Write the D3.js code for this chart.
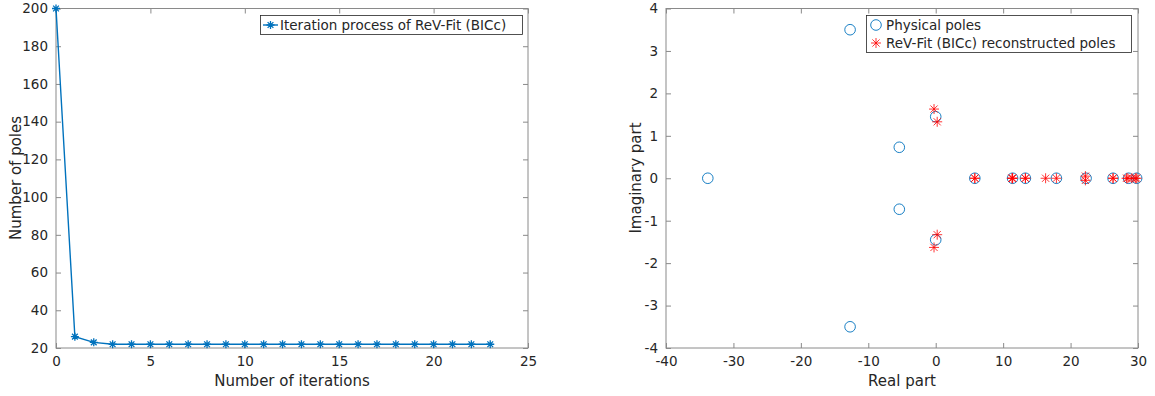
<!DOCTYPE html>
<html>
<head>
<meta charset="utf-8">
<script src="https://cdn.jsdelivr.net/npm/d3@7"></script>
<style>
body { margin: 0; background: #fff; }
text { font-family: "DejaVu Sans", sans-serif; fill: #262626; }
</style>
</head>
<body>
<svg width="1155" height="396"></svg>
<script>
// left panel: iteration history
var iterations = [0, 1, 2, 3, 4, 5, 6, 7, 8, 9, 10, 11, 12, 13, 14, 15, 16, 17, 18, 19, 20, 21, 22, 23];
var poleCounts = [200, 26, 23, 22, 22, 22, 22, 22, 22, 22, 22, 22, 22, 22, 22, 22, 22, 22, 22, 22, 22, 22, 22, 22];
var iterTicks = [0, 5, 10, 15, 20, 25];
var countTicks = [20, 40, 60, 80, 100, 120, 140, 160, 180, 200];

// right panel: pole locations
var physRe = [-33.8, -12.7, -12.7, -5.4, -5.4, 0.0, 0.0, 5.8, 11.4, 13.3, 17.9, 22.3, 26.3, 28.6, 29.8];
var physIm = [0, 3.5, -3.5, 0.73, -0.73, 1.45, -1.45, 0, 0, 0, 0, 0, 0, 0, 0];
var fitRe = [-0.25, 0.22, 0.22, -0.25, 5.8, 5.8, 11.4, 11.4, 13.3, 13.3, 16.3, 17.9, 22.2, 22.2, 26.3, 26.3, 28.5, 29.1, 29.8, 29.6, 28.3, 11.3];
var fitIm = [1.63, 1.33, -1.33, -1.63, 0, 0, 0, 0, 0, 0, 0, 0, 0.05, -0.05, 0, 0, 0, 0, 0, 0, 0, 0];
var reTicks = [-40, -30, -20, -10, 0, 10, 20, 30];
var imTicks = [-4, -3, -2, -1, 0, 1, 2, 3, 4];

var blue = "#0072BD", red = "#FF0000", axisCol = "#8a8a8a";

var svg = d3.select("svg");

// MATLAB style labels use a plain hyphen for negatives
var plainFmt = function (d) { return String(d); };

function starPath(r) {
    var a = r * 0.72;
    return "M" + (-r) + ",0L" + r + ",0M0," + (-r) + "L0," + r +
        "M" + (-a) + "," + (-a) + "L" + a + "," + a + "M" + (-a) + "," + a + "L" + a + "," + (-a);
}

function drawFrame(g, x, y, xt, yt) {
    var x0 = x.range()[0], x1 = x.range()[1], y0 = y.range()[0], y1 = y.range()[1];
    g.append("rect")
        .attr("x", x0).attr("y", y1)
        .attr("width", x1 - x0).attr("height", y0 - y1)
        .attr("fill", "none").attr("stroke", axisCol);

    var bottom = g.append("g").attr("transform", "translate(0," + y0 + ")")
        .call(d3.axisBottom(x).tickValues(xt).tickSizeInner(-5).tickSizeOuter(0).tickPadding(8).tickFormat(plainFmt));
    var top = g.append("g").attr("transform", "translate(0," + y1 + ")")
        .call(d3.axisTop(x).tickValues(xt).tickSizeInner(-5).tickSizeOuter(0).tickFormat(""));
    var left = g.append("g").attr("transform", "translate(" + x0 + ",0)")
        .call(d3.axisLeft(y).tickValues(yt).tickSizeInner(-5).tickSizeOuter(0).tickPadding(8).tickFormat(plainFmt));
    var right = g.append("g").attr("transform", "translate(" + x1 + ",0)")
        .call(d3.axisRight(y).tickValues(yt).tickSizeInner(-5).tickSizeOuter(0).tickFormat(""));

    [bottom, top, left, right].forEach(function (a) {
        a.select(".domain").remove();
        a.selectAll(".tick line").attr("stroke", axisCol);
        a.selectAll(".tick text")
            .attr("fill", "#262626")
            .style("font-size", "13.5px")
            .style("font-family", "DejaVu Sans");
    });
}

// ---------- left panel ----------
var xL = d3.scaleLinear().domain([0, 25]).range([56, 528]);
var yL = d3.scaleLinear().domain([20, 200]).range([348, 8.5]);

var gL = svg.append("g");
drawFrame(gL, xL, yL, iterTicks, countTicks);

var lineL = d3.line()
    .x(function (d, i) { return xL(iterations[i]); })
    .y(function (d) { return yL(d); });

gL.append("path")
    .datum(poleCounts)
    .attr("fill", "none")
    .attr("stroke", blue)
    .attr("stroke-width", 1.4)
    .attr("d", lineL);

gL.selectAll(".starL")
    .data(poleCounts)
    .enter().append("path")
    .attr("class", "starL")
    .attr("transform", function (d, i) { return "translate(" + xL(iterations[i]) + "," + yL(d) + ")"; })
    .attr("d", starPath(4))
    .attr("stroke", blue)
    .attr("stroke-width", 1.3)
    .attr("fill", "none");

gL.append("text")
    .attr("x", 292).attr("y", 386)
    .attr("text-anchor", "middle")
    .style("font-size", "15px")
    .text("Number of iterations");

gL.append("text")
    .attr("transform", "translate(21,178) rotate(-90)")
    .attr("text-anchor", "middle")
    .style("font-size", "15px")
    .text("Number of poles");

// legend
var legL = gL.append("g");
legL.append("rect")
    .attr("x", 260.5).attr("y", 15.5).attr("width", 262).attr("height", 19)
    .attr("fill", "#fff").attr("stroke", "#262626").attr("stroke-width", 0.8);
legL.append("line")
    .attr("x1", 263).attr("x2", 278).attr("y1", 25).attr("y2", 25)
    .attr("stroke", blue).attr("stroke-width", 1.4);
legL.append("path")
    .attr("transform", "translate(270.5,25)")
    .attr("d", starPath(4))
    .attr("stroke", blue).attr("stroke-width", 1.3);
legL.append("text")
    .attr("x", 280).attr("y", 30)
    .style("font-size", "13.5px")
    .text("Iteration process of ReV-Fit (BICc)");

// ---------- right panel ----------
var xR = d3.scaleLinear().domain([-40, 30]).range([666, 1138]);
var yR = d3.scaleLinear().domain([-4, 4]).range([348, 8.5]);

var gR = svg.append("g");
drawFrame(gR, xR, yR, reTicks, imTicks);

gR.selectAll(".phys")
    .data(physRe)
    .enter().append("circle")
    .attr("class", "phys")
    .attr("cx", function (d) { return xR(d); })
    .attr("cy", function (d, i) { return yR(physIm[i]); })
    .attr("r", 5.3)
    .attr("fill", "none")
    .attr("stroke", blue)
    .attr("stroke-width", 0.9);

gR.selectAll(".fit")
    .data(fitRe)
    .enter().append("path")
    .attr("class", "fit")
    .attr("transform", function (d, i) { return "translate(" + xR(d) + "," + yR(fitIm[i]) + ")"; })
    .attr("d", starPath(5))
    .attr("stroke", red)
    .attr("stroke-width", 0.8)
    .attr("fill", "none");

gR.append("text")
    .attr("x", 902).attr("y", 386)
    .attr("text-anchor", "middle")
    .style("font-size", "15px")
    .text("Real part");

gR.append("text")
    .attr("transform", "translate(641,178) rotate(-90)")
    .attr("text-anchor", "middle")
    .style("font-size", "15px")
    .text("Imaginary part");

var legR = gR.append("g");
legR.append("rect")
    .attr("x", 866.5).attr("y", 15.5).attr("width", 265).attr("height", 37)
    .attr("fill", "#fff").attr("stroke", "#262626").attr("stroke-width", 0.8);
legR.append("circle")
    .attr("cx", 876).attr("cy", 25).attr("r", 5.3)
    .attr("fill", "none").attr("stroke", blue).attr("stroke-width", 0.9);
legR.append("path")
    .attr("transform", "translate(876,43)")
    .attr("d", starPath(5))
    .attr("stroke", red).attr("stroke-width", 0.8);
legR.append("text")
    .attr("x", 886).attr("y", 30)
    .style("font-size", "13.5px")
    .text("Physical poles");
legR.append("text")
    .attr("x", 886).attr("y", 48)
    .style("font-size", "13.5px")
    .text("ReV-Fit (BICc) reconstructed poles");
</script>
</body>
</html>
